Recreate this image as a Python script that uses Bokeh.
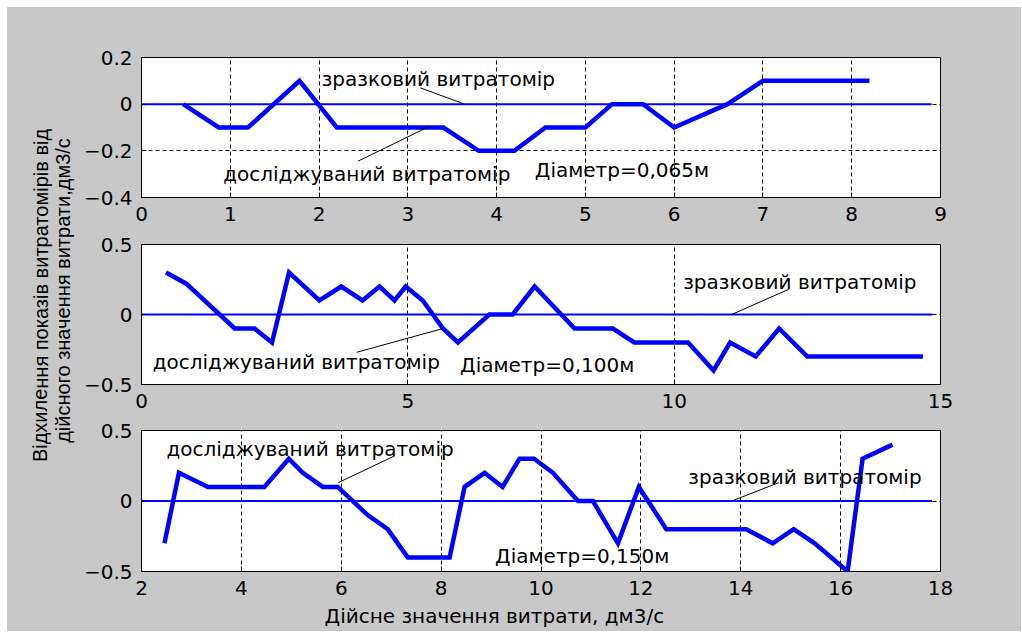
from bokeh.plotting import figure
from bokeh.layouts import row, column
from bokeh.models import Range1d, FixedTicker, ColumnDataSource, Label, Title
from bokeh.core.properties import value
from bokeh.embed import file_html
from bokeh.resources import INLINE

# ---------------- data ----------------
# Plot 1 (diameter 0.065 m)
ref1_x = [0.0, 8.9]
ref1_y = [0.0, 0.0]
test1_x = [0.47, 0.87, 1.2, 1.78, 2.2, 3.4, 3.8, 4.2, 4.55, 5.0, 5.3, 5.65, 6.0, 6.6, 7.0, 8.2]
test1_y = [0.0, -0.1, -0.1, 0.1, -0.1, -0.1, -0.2, -0.2, -0.1, -0.1, 0.0, 0.0, -0.1, 0.0, 0.1, 0.1]

# Plot 2 (diameter 0.100 m)
ref2_x = [0.0, 14.85]
ref2_y = [0.0, 0.0]
test2_x = [0.46, 0.84, 1.75, 2.12, 2.45, 2.77, 3.34, 3.75, 4.15, 4.47, 4.75, 4.96, 5.28, 5.66,
           5.94, 6.53, 6.97, 7.38, 8.13, 8.85, 9.25, 10.26, 10.74, 11.05, 11.53, 11.97, 12.5, 14.67]
test2_y = [0.3, 0.22, -0.1, -0.1, -0.2, 0.3, 0.1, 0.2, 0.1, 0.2, 0.1, 0.2, 0.1, -0.1,
           -0.2, 0.0, 0.0, 0.2, -0.1, -0.1, -0.2, -0.2, -0.4, -0.2, -0.3, -0.1, -0.3, -0.3]

# Plot 3 (diameter 0.150 m)
ref3_x = [2.0, 17.83]
ref3_y = [0.0, 0.0]
test3_x = [2.46, 2.75, 3.33, 4.46, 4.95, 5.23, 5.63, 5.93, 6.53, 6.93, 7.33, 8.17, 8.47, 8.87,
           9.23, 9.57, 9.86, 10.24, 10.74, 11.04, 11.54, 11.96, 12.51, 14.11, 14.64, 15.06,
           15.48, 16.14, 16.44, 17.04]
test3_y = [-0.3, 0.2, 0.1, 0.1, 0.3, 0.2, 0.1, 0.1, -0.1, -0.2, -0.4, -0.4, 0.1, 0.2,
           0.1, 0.3, 0.3, 0.2, 0.0, 0.0, -0.3, 0.1, -0.2, -0.2, -0.3, -0.2,
           -0.3, -0.5, 0.3, 0.4]

# tick labels
x1_ticks = [0, 1, 2, 3, 4, 5, 6, 7, 8, 9]
y1_ticks = [-0.4, -0.2, 0, 0.2]
x2_ticks = [0, 5, 10, 15]
y2_ticks = [-0.5, 0, 0.5]
x3_ticks = [2, 4, 6, 8, 10, 12, 14, 16, 18]
y3_ticks = [-0.5, 0, 0.5]

# texts
t_ref = "зразковий витратомір"
t_test = "досліджуваний витратомір"
diam = ["Діаметр=0,065м", "Діаметр=0,100м", "Діаметр=0,150м"]
ylabel_lines = ["Відхилення показів витратомірів від", "дійсного значення витрати,дм3/с"]
xlabel = "Дійсне значення витрати, дм3/с"

# annotation positions (data coords)
ann1 = dict(tx=[2.03, 0.92, 4.43], ty=[0.106, -0.30, -0.28],
            lx0=[3.14, 2.44], ly0=[0.07, -0.244], lx1=[3.64, 3.25], ly1=[0.0, -0.094])
ann2 = dict(tx=[10.17, 0.21, 5.98], ty=[0.23, -0.34, -0.36],
            lx0=[12.15, 4.04], ly0=[0.18, -0.27], lx1=[11.08, 5.66], ly1=[0.0, -0.10])
ann3 = dict(tx=[12.95, 2.5, 9.08], ty=[0.17, 0.37, -0.39],
            lx0=[14.76, 7.07], ly0=[0.13, 0.32], lx1=[13.82, 5.94], ly1=[0.0, 0.13])

GRAY = "#c8c8c8"
FONT = "DejaVu Sans"
BLUE = "#0000ff"
LABEL_W = 73
PANEL_W = 941


def make_panel(height, top, bottom, xr, yr, xt, yt, rx, ry, tx, ty, ann, dtext):
    p = figure(width=PANEL_W, height=height, output_backend="svg", toolbar_location=None,
               x_range=Range1d(*xr), y_range=Range1d(*yr),
               min_border_left=54, min_border_right=81,
               min_border_top=top, min_border_bottom=bottom)
    p.background_fill_color = "white"
    p.border_fill_color = GRAY
    p.outline_line_color = "black"
    p.outline_line_width = 1
    for ax in (p.xaxis[0], p.yaxis[0]):
        ax.axis_line_color = "black"
        ax.major_tick_in = 5
        ax.major_tick_out = 0
        ax.minor_tick_line_color = None
        ax.major_tick_line_color = "black"
        ax.major_label_text_font = FONT
        ax.major_label_text_font_size = "20px"
        ax.major_label_text_color = "black"
    p.xaxis.ticker = FixedTicker(ticks=xt)
    p.yaxis.ticker = FixedTicker(ticks=yt)
    p.xaxis.major_label_standoff = 9
    p.yaxis.major_label_standoff = 9
    for g in (p.xgrid[0], p.ygrid[0]):
        g.grid_line_color = "black"
        g.grid_line_dash = "4 3"
        g.grid_line_width = 1
    p.xgrid.ticker = FixedTicker(ticks=xt)
    p.ygrid.ticker = FixedTicker(ticks=yt)

    p.line(rx, ry, line_color=BLUE, line_width=2)
    p.line(tx, ty, line_color=BLUE, line_width=4.5, line_join="miter")
    p.segment(x0=ann["lx0"], y0=ann["ly0"], x1=ann["lx1"], y1=ann["ly1"],
              line_color="black", line_width=1)
    src = ColumnDataSource(dict(x=ann["tx"], y=ann["ty"], t=dtext))
    p.text(x="x", y="y", text="t", source=src, text_font=value(FONT),
           text_font_size="20px", text_color="black", text_align="left",
           text_baseline="middle")
    return p


p1 = make_panel(220, 50, 30, (0, 9), (-0.4, 0.2), x1_ticks, y1_ticks,
                ref1_x, ref1_y, test1_x, test1_y, ann1, [t_ref, t_test, diam[0]])
p2 = make_panel(187, 17, 30, (0, 15), (-0.5, 0.5), x2_ticks, y2_ticks,
                ref2_x, ref2_y, test2_x, test2_y, ann2, [t_ref, t_test, diam[1]])
p3 = make_panel(217, 16, 60, (2, 18), (-0.5, 0.5), x3_ticks, y3_ticks,
                ref3_x, ref3_y, test3_x, test3_y, ann3, [t_ref, t_test, diam[2]])
p3.add_layout(Title(text=xlabel, text_font=FONT, text_font_size="20px",
                    text_font_style="normal", text_color="black", align="left",
                    offset=183, standoff=8), "below")

# narrow figure that holds the shared y-axis label (x/y ranges = page pixels)
yl = figure(width=LABEL_W, height=624, output_backend="svg", toolbar_location=None,
            x_range=Range1d(7, 7 + LABEL_W), y_range=Range1d(0, 624),
            min_border_left=0, min_border_right=0, min_border_top=0, min_border_bottom=0)
yl.axis.visible = False
yl.grid.visible = False
yl.outline_line_color = None
yl.background_fill_color = GRAY
yl.border_fill_color = GRAY
yl.add_layout(Label(x=40, y=631 - 295, text=ylabel_lines[0], angle=1.5707963,
                    text_font="Liberation Sans", text_font_size="20px",
                    text_align="center", text_baseline="middle", text_color="black"))
yl.add_layout(Label(x=62, y=631 - 290, text=ylabel_lines[1], angle=1.5707963,
                    text_font="Liberation Sans", text_font_size="20px",
                    text_align="center", text_baseline="middle", text_color="black"))

layout = row(yl, column(p1, p2, p3, spacing=0, styles={"background-color": GRAY}),
             spacing=0, margin=(7, 0, 0, 7), styles={"background-color": GRAY})

open("out.html", "w").write(file_html(layout, INLINE))
